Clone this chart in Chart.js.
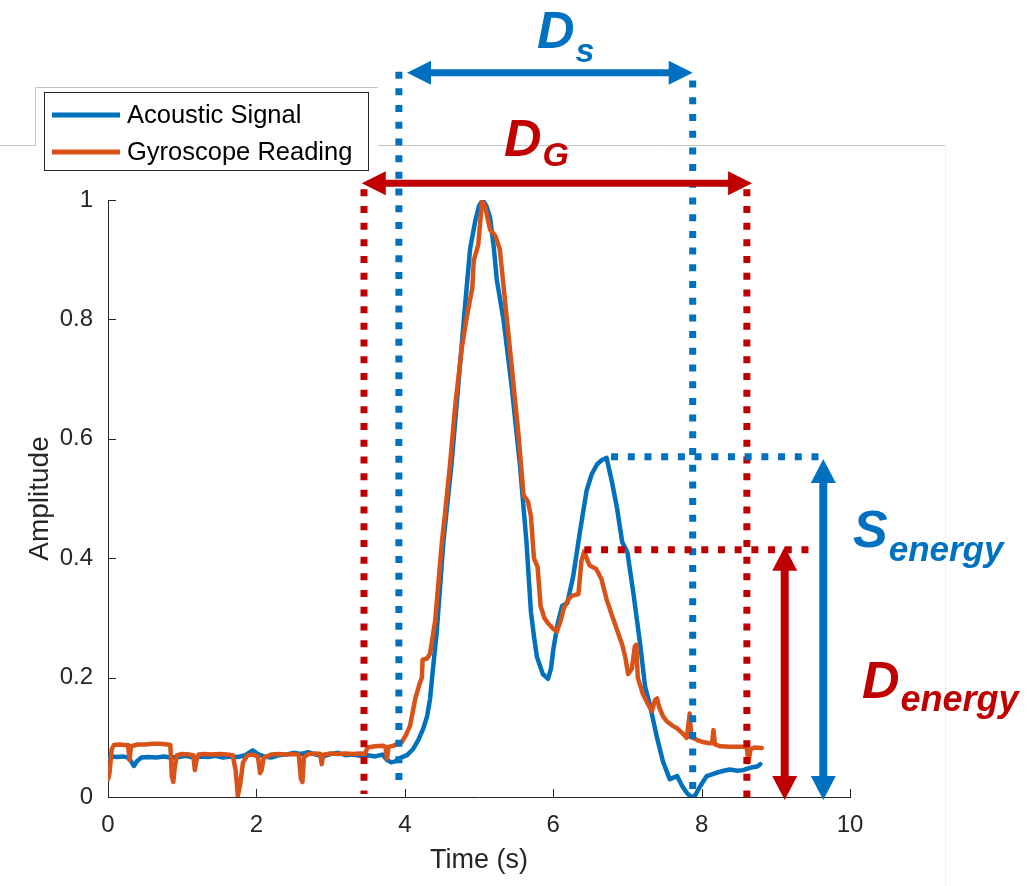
<!DOCTYPE html>
<html>
<head>
<meta charset="utf-8">
<script src="https://cdn.jsdelivr.net/npm/chart.js@4.4.0/dist/chart.umd.min.js"></script>
<style>
html,body{margin:0;padding:0;background:#ffffff;}
#wrap{width:1035px;height:886px;position:relative;}
</style>
</head>
<body>
<div id="wrap"><canvas id="c" width="1035" height="886"></canvas></div>
<script>
// ---- data ----
const seriesLabels = ['Acoustic Signal', 'Gyroscope Reading'];

const acousticTime = [0.00,0.05,0.12,0.20,0.27,0.31,0.35,0.39,0.45,0.55,0.65,0.75,0.85,0.95,1.05,1.15,1.25,1.35,1.45,1.55,1.65,1.75,1.85,1.95,2.02,2.10,2.20,2.30,2.40,2.50,2.60,2.70,2.80,2.90,3.00,3.10,3.20,3.30,3.40,3.50,3.60,3.70,3.76,3.82,3.88,3.95,4.03,4.11,4.18,4.25,4.30,4.34,4.38,4.43,4.52,4.63,4.72,4.81,4.88,4.95,5.00,5.05,5.10,5.15,5.20,5.24,5.33,5.44,5.55,5.64,5.70,5.74,5.78,5.86,5.93,5.97,6.00,6.06,6.12,6.19,6.27,6.36,6.45,6.52,6.59,6.65,6.72,6.79,6.86,6.93,7.00,7.08,7.17,7.24,7.30,7.40,7.48,7.57,7.67,7.74,7.80,7.86,7.91,7.98,8.07,8.14,8.21,8.30,8.38,8.48,8.56,8.63,8.69,8.75,8.79];
const acousticValues = [0.066,0.068,0.067,0.068,0.066,0.060,0.052,0.060,0.066,0.067,0.066,0.068,0.066,0.067,0.069,0.066,0.068,0.067,0.069,0.066,0.068,0.067,0.070,0.078,0.072,0.068,0.066,0.070,0.071,0.074,0.072,0.075,0.071,0.068,0.072,0.074,0.070,0.071,0.069,0.070,0.068,0.071,0.062,0.058,0.060,0.066,0.070,0.080,0.095,0.115,0.135,0.164,0.215,0.276,0.427,0.558,0.688,0.820,0.918,0.965,0.990,1.000,0.990,0.970,0.920,0.866,0.800,0.688,0.558,0.427,0.310,0.270,0.235,0.206,0.198,0.215,0.246,0.290,0.320,0.325,0.370,0.444,0.513,0.541,0.557,0.564,0.568,0.529,0.484,0.427,0.410,0.342,0.258,0.184,0.156,0.099,0.059,0.030,0.035,0.018,0.007,0.000,0.002,0.018,0.035,0.038,0.041,0.044,0.046,0.044,0.045,0.048,0.050,0.051,0.055];

const gyroTime = [0.00,0.02,0.05,0.08,0.15,0.22,0.27,0.29,0.31,0.40,0.50,0.60,0.70,0.80,0.84,0.86,0.88,0.90,0.93,1.00,1.10,1.15,1.17,1.19,1.22,1.30,1.40,1.50,1.60,1.68,1.72,1.75,1.78,1.82,1.88,1.95,2.02,2.05,2.07,2.10,2.20,2.30,2.40,2.50,2.57,2.60,2.62,2.64,2.70,2.80,2.86,2.88,2.90,3.00,3.10,3.20,3.30,3.40,3.46,3.50,3.60,3.70,3.74,3.76,3.78,3.85,3.96,4.02,4.07,4.14,4.20,4.23,4.24,4.30,4.34,4.41,4.50,4.54,4.61,4.68,4.77,4.84,4.91,4.93,4.99,5.04,5.08,5.15,5.22,5.28,5.35,5.44,5.53,5.60,5.66,5.70,5.74,5.79,5.83,5.88,5.93,6.00,6.05,6.10,6.14,6.20,6.25,6.34,6.38,6.42,6.45,6.49,6.58,6.65,6.72,6.79,6.86,6.93,6.97,7.01,7.06,7.10,7.12,7.14,7.21,7.28,7.33,7.37,7.40,7.43,7.48,7.53,7.60,7.67,7.74,7.80,7.84,7.86,7.95,8.02,8.10,8.14,8.16,8.18,8.25,8.38,8.48,8.56,8.61,8.63,8.66,8.72,8.81];
const gyroValues = [0.030,0.040,0.080,0.087,0.088,0.087,0.087,0.062,0.085,0.088,0.088,0.089,0.089,0.088,0.087,0.035,0.025,0.050,0.070,0.072,0.071,0.070,0.045,0.060,0.071,0.072,0.071,0.072,0.071,0.070,0.045,0.002,0.020,0.058,0.070,0.071,0.068,0.040,0.045,0.066,0.071,0.072,0.071,0.072,0.071,0.030,0.025,0.066,0.072,0.073,0.072,0.055,0.071,0.073,0.072,0.073,0.072,0.073,0.072,0.083,0.085,0.086,0.084,0.064,0.084,0.086,0.092,0.105,0.119,0.164,0.190,0.200,0.230,0.232,0.240,0.296,0.427,0.472,0.558,0.656,0.754,0.807,0.853,0.899,0.925,0.997,0.990,0.950,0.940,0.918,0.832,0.722,0.610,0.506,0.495,0.470,0.400,0.385,0.320,0.300,0.291,0.282,0.277,0.295,0.315,0.330,0.337,0.340,0.395,0.412,0.400,0.388,0.382,0.365,0.331,0.305,0.280,0.255,0.235,0.206,0.215,0.252,0.255,0.200,0.172,0.155,0.144,0.162,0.165,0.150,0.135,0.127,0.120,0.115,0.107,0.099,0.140,0.100,0.095,0.092,0.090,0.090,0.112,0.088,0.085,0.084,0.084,0.084,0.083,0.058,0.080,0.083,0.082];

const xTickValues = [0, 2, 4, 6, 8, 10];
const yTickValues = [0, 0.2, 0.4, 0.6, 0.8, 1];

// annotation positions (data units)
const dsStart = 3.92, dsEnd = 7.88;        // acoustic duration markers
const dgStart = 3.45, dgEnd = 8.61;        // gyroscope duration markers
const sEnergyLevel = 0.570;                // acoustic second peak
const dEnergyLevel = 0.414;                // gyroscope second peak

const FONT = "'Liberation Sans', Arial, Helvetica, sans-serif";
const AXIS = '#262626';
const BLUE = '#0072BD', ORANGE = '#D95319';
const ABLUE = '#0070C0', ARED = '#C00000';

function toPoints(xs, ys) { return xs.map((x, i) => ({x: x, y: ys[i]})); }

function dotted(ctx, x1, y1, x2, y2, color) {
  ctx.save();
  ctx.strokeStyle = color;
  ctx.lineWidth = 7;
  ctx.lineCap = 'butt';
  ctx.setLineDash([7, 9.7]);
  ctx.beginPath();
  ctx.moveTo(x1, y1);
  ctx.lineTo(x2, y2);
  ctx.stroke();
  ctx.restore();
}

function dblArrow(ctx, x1, y1, x2, y2, color, w, hl, hw) {
  const dx = x2 - x1, dy = y2 - y1, L = Math.hypot(dx, dy);
  const ux = dx / L, uy = dy / L, nx = -uy, ny = ux;
  ctx.save();
  ctx.strokeStyle = color; ctx.fillStyle = color;
  ctx.lineWidth = w; ctx.lineCap = 'butt';
  ctx.beginPath();
  ctx.moveTo(x1 + ux * (hl - 2), y1 + uy * (hl - 2));
  ctx.lineTo(x2 - ux * (hl - 2), y2 - uy * (hl - 2));
  ctx.stroke();
  [[x1, y1, 1], [x2, y2, -1]].forEach(([tx, ty, s]) => {
    const bx = tx + ux * hl * s, by = ty + uy * hl * s;
    ctx.beginPath();
    ctx.moveTo(tx, ty);
    ctx.lineTo(bx + nx * hw, by + ny * hw);
    ctx.lineTo(bx - nx * hw, by - ny * hw);
    ctx.closePath();
    ctx.fill();
  });
  ctx.restore();
}

function subText(ctx, main, sub, x, base, subBase, color, mainSize, subSize) {
  ctx.save();
  ctx.fillStyle = color;
  ctx.textBaseline = 'alphabetic';
  ctx.textAlign = 'left';
  ctx.font = 'italic bold ' + mainSize + 'px ' + FONT;
  ctx.fillText(main, x, base);
  const w = ctx.measureText(main).width;
  ctx.font = 'italic bold ' + subSize + 'px ' + FONT;
  ctx.fillText(sub, x + w + 1, subBase);
  ctx.restore();
}

const framePlugin = {
  id: 'frame',
  beforeDraw(chart) {
    const ctx = chart.ctx;
    ctx.save();
    ctx.strokeStyle = '#c4c4c4';
    ctx.lineWidth = 1;
    ctx.beginPath();
    ctx.moveTo(0, 145.5); ctx.lineTo(35.5, 145.5);
    ctx.moveTo(35.5, 145.5); ctx.lineTo(35.5, 87.5);
    ctx.lineTo(378, 87.5);
    ctx.moveTo(378, 145.5); ctx.lineTo(945.5, 145.5);
    ctx.stroke();
    ctx.strokeStyle = '#efefef';
    ctx.beginPath();
    ctx.moveTo(945.5, 145.5); ctx.lineTo(945.5, 886);
    ctx.stroke();
    ctx.restore();
  },
  afterDraw(chart) {
    const ctx = chart.ctx;
    const xs = chart.scales.x, ys = chart.scales.y;
    const X = v => xs.getPixelForValue(v), Y = v => ys.getPixelForValue(v);
    const area = chart.chartArea;

    // inward tick marks
    ctx.save();
    ctx.strokeStyle = AXIS; ctx.lineWidth = 1;
    ctx.beginPath();
    xTickValues.forEach(v => { const p = Math.round(X(v)) + 0.5; ctx.moveTo(p, area.bottom); ctx.lineTo(p, area.bottom - 8); });
    yTickValues.forEach(v => { const p = Math.round(Y(v)) + 0.5; ctx.moveTo(area.left, p); ctx.lineTo(area.left + 8, p); });
    ctx.stroke();
    ctx.restore();

    // dotted duration / level markers
    dotted(ctx, X(dgStart), Y(1.018), X(dgStart), Y(0.005), ARED);
    dotted(ctx, X(dgEnd), Y(1.018), X(dgEnd), Y(-0.005), ARED);
    dotted(ctx, X(dsStart), Y(1.215), X(dsStart), Y(0.022), ABLUE);
    dotted(ctx, X(dsEnd), Y(1.2), X(dsEnd), Y(0.0), ABLUE);
    dotted(ctx, X(6.78), Y(sEnergyLevel), X(9.66), Y(sEnergyLevel), ABLUE);
    dotted(ctx, X(6.42), Y(dEnergyLevel), X(9.46), Y(dEnergyLevel), ARED);

    // arrows
    dblArrow(ctx, X(4.03), Y(1.213), X(7.88), Y(1.213), ABLUE, 7, 24, 12);
    dblArrow(ctx, X(3.42), Y(1.028), X(8.68), Y(1.028), ARED, 7, 24, 12);
    dblArrow(ctx, X(9.12), Y(dEnergyLevel + 0.005), X(9.12), Y(-0.005), ARED, 8, 24, 12.5);
    dblArrow(ctx, X(9.64), Y(sEnergyLevel - 0.004), X(9.64), Y(-0.005), ABLUE, 8, 24, 12.5);

    // labels
    subText(ctx, 'D', 's', 537, 48, 62, ABLUE, 52, 34);
    subText(ctx, 'D', 'G', 504, 156, 166, ARED, 52, 34);
    subText(ctx, 'S', 'energy', 853, 547, 561, ABLUE, 52, 35);
    subText(ctx, 'D', 'energy', 862, 698, 711, ARED, 52, 36);

    // legend
    const lx = 44, ly = 92, lw = 324, lh = 78;
    ctx.save();
    ctx.fillStyle = '#ffffff';
    ctx.fillRect(lx, ly, lw, lh);
    ctx.strokeStyle = AXIS; ctx.lineWidth = 1;
    ctx.strokeRect(lx + 0.5, ly + 0.5, lw, lh);
    ctx.font = '25.5px ' + FONT;
    ctx.textBaseline = 'middle';
    ctx.textAlign = 'left';
    chart.data.datasets.forEach((ds, i) => {
      const yy = 115 + i * 37;
      ctx.strokeStyle = ds.borderColor; ctx.lineWidth = 5;
      ctx.beginPath(); ctx.moveTo(52, yy); ctx.lineTo(120, yy); ctx.stroke();
      ctx.fillStyle = '#000000';
      ctx.fillText(ds.label, 127, yy + 1);
    });
    ctx.restore();
  }
};

new Chart(document.getElementById('c'), {
  type: 'line',
  data: {
    datasets: [
      { label: seriesLabels[0], data: toPoints(acousticTime, acousticValues), borderColor: BLUE, backgroundColor: BLUE,
        borderWidth: 4.5, pointRadius: 0, tension: 0, fill: false, order: 1, borderJoinStyle: 'round', borderCapStyle: 'round' },
      { label: seriesLabels[1], data: toPoints(gyroTime, gyroValues), borderColor: ORANGE, backgroundColor: ORANGE,
        borderWidth: 4.5, pointRadius: 0, tension: 0, fill: false, order: 0, borderJoinStyle: 'round', borderCapStyle: 'round' }
    ]
  },
  options: {
    responsive: false,
    animation: false,
    devicePixelRatio: 1,
    layout: { padding: { left: 0, top: 200, right: 185, bottom: 0 } },
    plugins: { legend: { display: false }, tooltip: { enabled: false } },
    scales: {
      x: {
        type: 'linear', min: 0, max: 10,
        afterBuildTicks: s => { s.ticks = xTickValues.map(v => ({ value: v })); },
        afterFit: s => { s.height = 89; },
        ticks: { font: { family: FONT, size: 24 }, color: AXIS, padding: 14, maxRotation: 0, autoSkip: false,
                 callback: v => String(v) },
        grid: { display: true, drawOnChartArea: false, drawTicks: false, color: 'rgba(0,0,0,0)' },
        border: { display: true, color: AXIS, width: 1 },
        title: { display: true, text: 'Time (s)', font: { family: FONT, size: 27 }, color: AXIS, padding: { top: 0, bottom: 9 } }
      },
      y: {
        type: 'linear', min: 0, max: 1,
        afterBuildTicks: s => { s.ticks = yTickValues.map(v => ({ value: v })); },
        afterFit: s => { s.width = 108; },
        ticks: { font: { family: FONT, size: 24 }, color: AXIS, padding: 15, autoSkip: false,
                 callback: v => String(v) },
        grid: { display: true, drawOnChartArea: false, drawTicks: false, color: 'rgba(0,0,0,0)' },
        border: { display: true, color: AXIS, width: 1 },
        title: { display: true, text: 'Amplitude', font: { family: FONT, size: 28 }, color: AXIS, padding: { top: 23, bottom: 0 } }
      }
    }
  },
  plugins: [framePlugin]
});
</script>
</body>
</html>
